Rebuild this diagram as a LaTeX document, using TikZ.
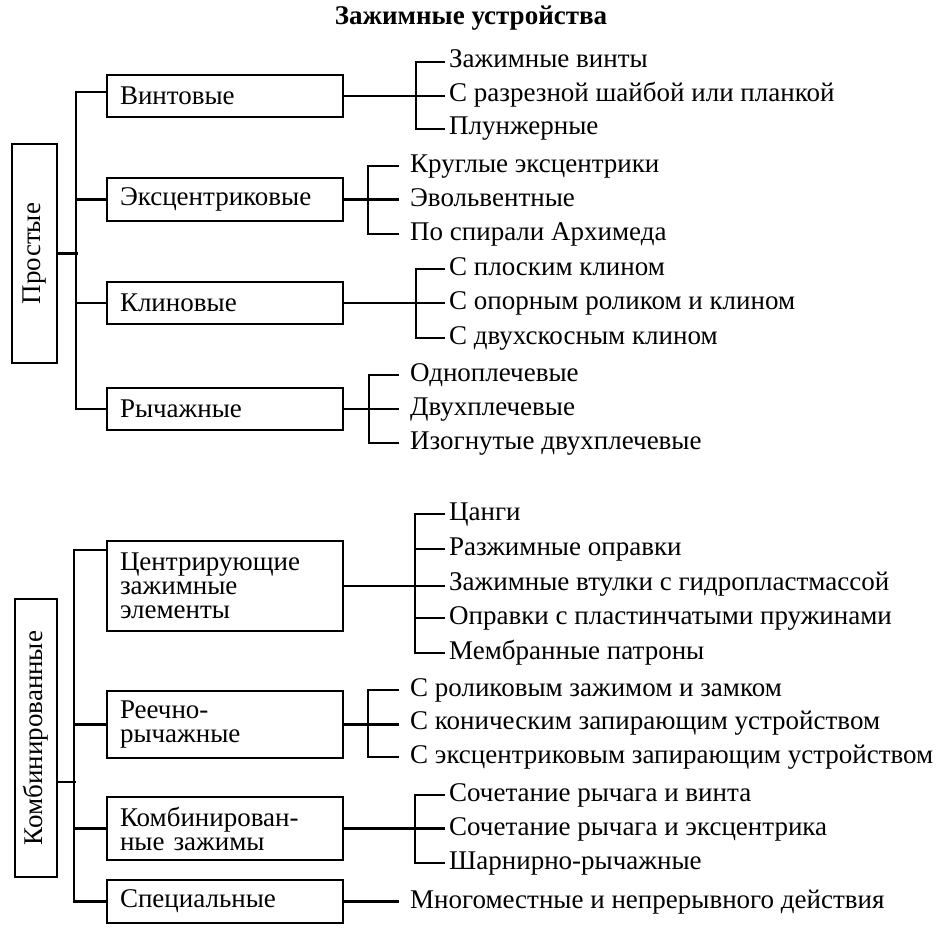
\documentclass[tikz,border=0pt]{standalone}
\usepackage{fontspec}
\setmainfont{Liberation Serif}
\begin{document}
\begin{tikzpicture}[x=0.5pt,y=-0.5pt, line width=1.15pt,
  every node/.style={font=\fontsize{13.5}{12}\selectfont},
  cbox/.style={draw, rectangle, text width=105pt, align=left, inner xsep=6.5pt, inner ysep=0pt},
  vbox/.style={draw, rectangle, rotate=90, inner sep=0pt},
  itemA/.style={anchor=west, inner xsep=1.5pt, inner ysep=0pt, text height=9pt, text depth=3pt},
  itemB/.style={anchor=west, inner xsep=5pt, inner ysep=0pt, text height=9pt, text depth=3pt},
  ttl/.style={font=\fontsize{13.5}{15}\selectfont\bfseries}]
\useasboundingbox (0,0) rectangle (940,936);

\node[ttl] (t) at (471,18) {Зажимные устройства};

% left rotated boxes
\node[vbox, minimum width=109.5pt, minimum height=22.5pt] (pr) at (34.5,253.5) {Простые};
\node[vbox, minimum width=139pt, minimum height=21pt] (km) at (36,738) {Комбинированные};

% category boxes
\node[cbox, minimum height=21pt] (vint) at (225,96) {Винтовые};
\node[cbox, minimum height=21.5pt] (eks) at (225,199.5) {Эксцентриковые};
\node[cbox, minimum height=21pt] (klin) at (225,303) {Клиновые};
\node[cbox, minimum height=21pt] (ryc) at (225,409) {Рычажные};
\node[cbox, minimum height=45pt] (cz) at (225,586) {Центрирующие\\зажимные\\элементы};
\node[cbox, minimum height=33.5pt] (rr) at (225,724.5) {Реечно-\\рычажные};
\node[cbox, minimum height=31.5pt] (kz) at (225,828.5) {Комбинирован-\\ные зажимы};
\node[cbox, minimum height=21.5pt] (sp) at (225,901.5) {Специальные};

% items
\node[itemA] (a1) at (445,62) {Зажимные винты};
\node[itemA] (a2) at (445,96) {С разрезной шайбой или планкой};
\node[itemA] (a3) at (445,129) {Плунжерные};

\node[itemB] (b1) at (399,166) {Круглые эксцентрики};
\node[itemB] (b2) at (399,200) {Эвольвентные};
\node[itemB] (b3) at (399,234) {По спирали Архимеда};

\node[itemA] (c1) at (445,269) {С плоским клином};
\node[itemA] (c2) at (445,303) {С опорным роликом и клином};
\node[itemA] (c3) at (445,338) {С двухскосным клином};

\node[itemB] (d1) at (399,375) {Одноплечевые};
\node[itemB] (d2) at (399,409) {Двухплечевые};
\node[itemB] (d3) at (399,443) {Изогнутые двухплечевые};

\node[itemA] (e1) at (445,514) {Цанги};
\node[itemA] (e2) at (445,549) {Разжимные оправки};
\node[itemA] (e3) at (445,584) {Зажимные втулки с гидропластмассой};
\node[itemA] (e4) at (445,618) {Оправки с пластинчатыми пружинами};
\node[itemA] (e5) at (445,653) {Мембранные патроны};

\node[itemB] (f1) at (399,690) {С роликовым зажимом и замком};
\node[itemB] (f2) at (399,723) {С коническим запирающим устройством};
\node[itemB] (f3) at (399,757) {С эксцентриковым запирающим устройством};

\node[itemA] (g1) at (445,795) {Сочетание рычага и винта};
\node[itemA] (g2) at (445,829) {Сочетание рычага и эксцентрика};
\node[itemA] (g3) at (445,863) {Шарнирно-рычажные};

\node[itemB] (h1) at (399,902) {Многоместные и непрерывного действия};

% left buses
\draw ([yshift=2pt]vint.west) -- ++(-30,0) |- (ryc.west);
\draw (eks.west) -- ++(-30,0);
\draw (klin.west) -- ++(-30,0);
\draw (pr.south) -- ++(20,0);

\draw ([yshift=18pt]cz.west) -- ++(-32,0) |- (sp.west);
\draw (rr.west) -- ++(-32,0);
\draw (kz.west) -- ++(-32,0);
\draw ([yshift=-22pt]km.south) -- ++(18,0);

% right brackets
\draw (a1.west) -- ++(-29,0) |- (a3.west);
\draw (vint.east) -- (vint.east -| a2.west);

\draw (b1.west) -- ++(-31,0) |- (b3.west);
\draw (eks.east) -- (eks.east -| b2.west);

\draw (c1.west) -- ++(-29,0) |- (c3.west);
\draw (klin.east) -- (klin.east -| c2.west);

\draw (d1.west) -- ++(-30,0) |- (d3.west);
\draw (ryc.east) -- (ryc.east -| d2.west);

\draw (e1.west) -- ++(-30,0) |- (e5.west);
\draw (e2.west) -- ++(-30,0);
\draw (e4.west) -- ++(-30,0);
\draw (cz.east) -- (cz.east -| e3.west);

\draw (f1.west) -- ++(-31,0) |- (f3.west);
\draw (rr.east) -- (rr.east -| f2.west);

\draw (g1.west) -- ++(-30,0) |- (g3.west);
\draw (kz.east) -- (kz.east -| g2.west);

\draw (sp.east) -- (sp.east -| h1.west);
\end{tikzpicture}
\end{document}
